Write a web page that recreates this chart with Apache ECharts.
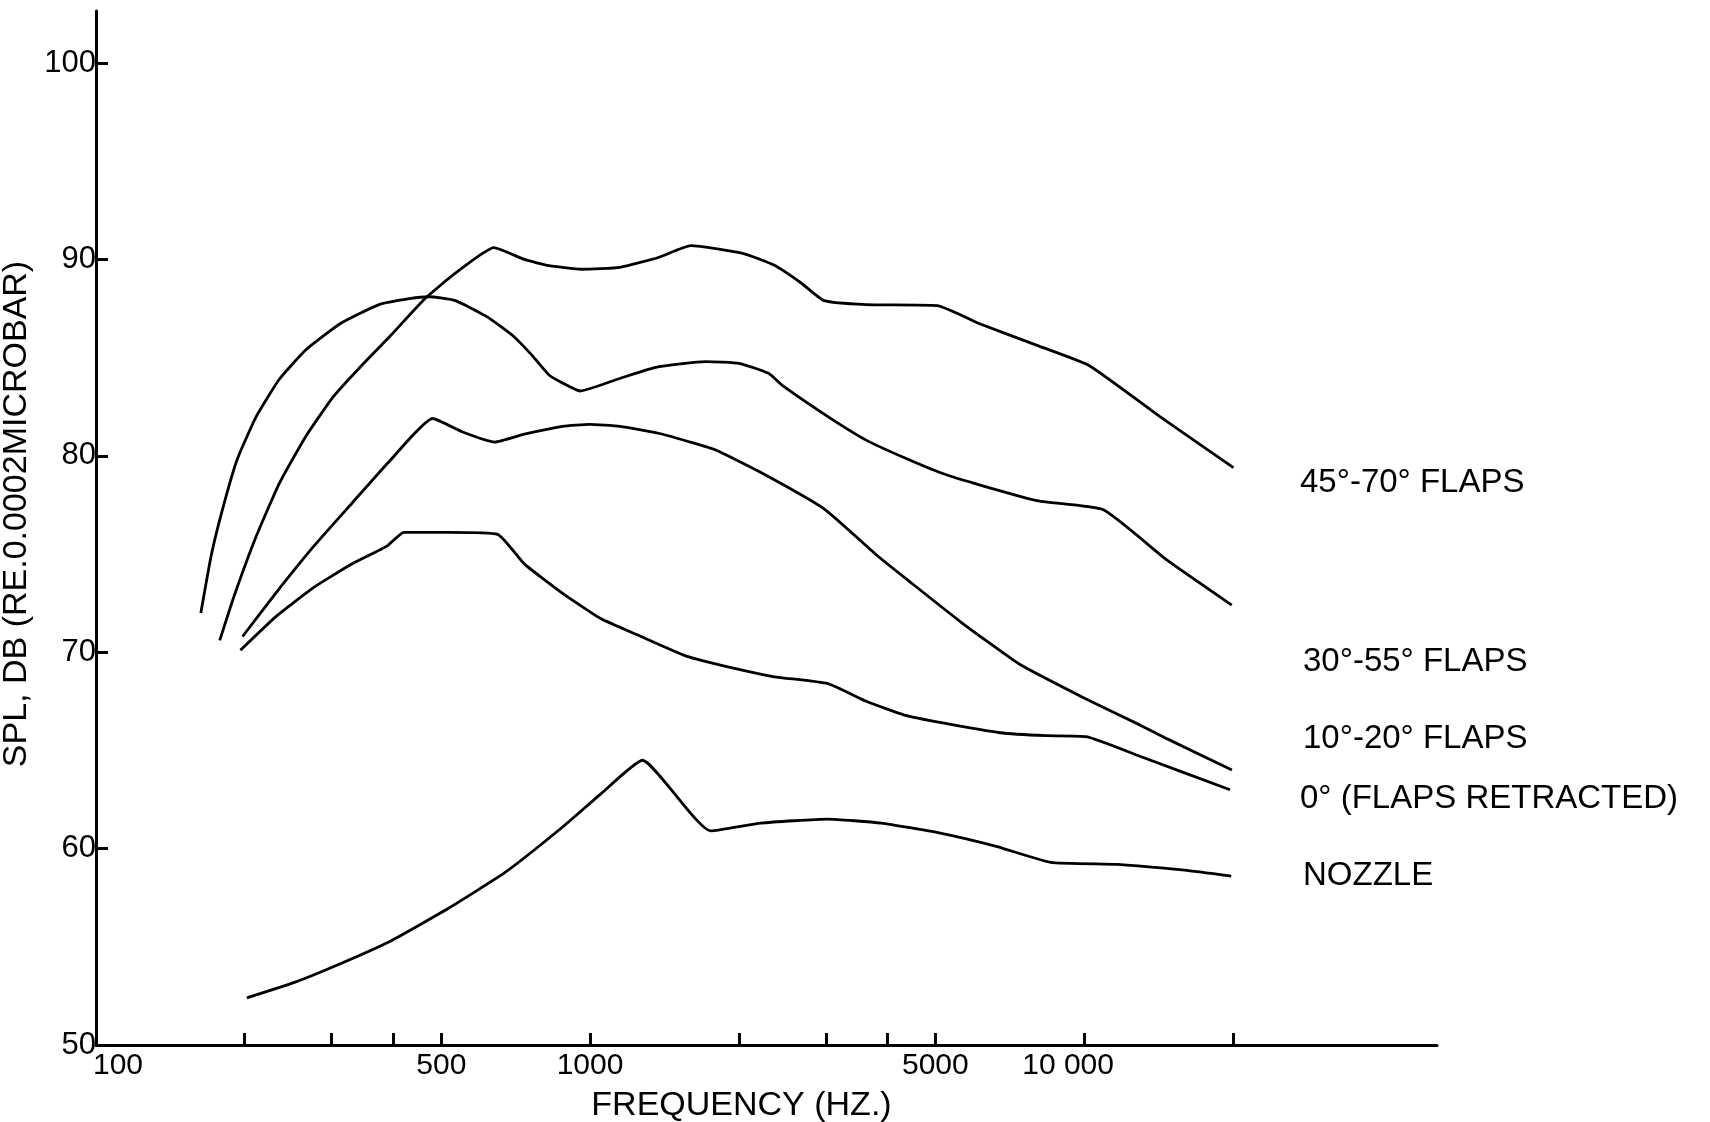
<!DOCTYPE html>
<html><head><meta charset="utf-8">
<script src="https://cdn.jsdelivr.net/npm/echarts@6/dist/echarts.min.js"></script>
<style>html,body{margin:0;padding:0;background:#fff}#c{width:1710px;height:1122px}</style>
</head><body><div id="c"></div>
<script>
// ---- data (frequency Hz, SPL dB) ----
const flaps45_70 = [[178,70.6],[190,72.8],[211,75.9],[235,78.6],[266,81.0],[302,83.0],[342,84.5],[394,86.1],[463,88.0],[534,89.3],[639,90.6],[736,90.0],[820,89.7],[962,89.5],[1150,89.6],[1375,90.1],[1600,90.7],[2046,90.3],[2361,89.7],[2675,88.8],[2977,87.9],[3622,87.7],[5040,87.65],[6185,86.7],[8083,85.6],[10230,84.6],[14240,82.0],[20060,79.4]];
const flaps30_55 = [[163,72.0],[171,74.9],[180,77.2],[193,79.8],[211,82.0],[235,83.9],[266,85.4],[313,86.75],[374,87.7],[431,88.0],[472,88.1],[534,87.9],[617,87.1],[699,86.1],[764,85.1],[827,84.1],[881,83.7],[954,83.3],[1136,83.9],[1358,84.5],[1713,84.8],[2011,84.7],[2298,84.2],[2446,83.6],[3030,82.0],[3622,80.8],[4329,79.9],[5174,79.1],[6185,78.5],[8083,77.7],[10940,77.25],[14700,74.7],[19900,72.4]];
const flaps10_20 = [[198,70.8],[231,73.0],[276,75.4],[330,77.6],[395,79.8],[480,81.9],[554,81.2],[641,80.7],[736,81.1],[880,81.5],[997,81.6],[1150,81.5],[1375,81.15],[1623,80.65],[1797,80.3],[2237,79.1],[2977,77.3],[3821,74.9],[4408,73.65],[5656,71.5],[7393,69.4],[9950,67.7],[12960,66.3],[14700,65.6],[19920,64.0]];
const flapsRetracted = [[196,70.1],[231,71.8],[276,73.3],[330,74.5],[388,75.4],[420,76.1],[516,76.1],[650,76.0],[736,74.5],[880,73.0],[1053,71.7],[1242,70.9],[1566,69.8],[1941,69.2],[2361,68.75],[3030,68.4],[3622,67.5],[4329,66.8],[5174,66.4],[6761,65.9],[8375,65.75],[10100,65.7],[12970,64.7],[19740,63.0]];
const nozzle = [[202,52.4],[253,53.2],[313,54.15],[395,55.3],[516,56.95],[674,58.8],[880,61.1],[1053,62.8],[1276,64.5],[1754,60.9],[2216,61.3],[3025,61.5],[3883,61.3],[5088,60.8],[6670,60.1],[8554,59.3],[11690,59.2],[15970,58.9],[19850,58.6]];

const seriesNames = ['45°-70° FLAPS','30°-55° FLAPS','10°-20° FLAPS','0° (FLAPS RETRACTED)','NOZZLE'];
const seriesData = [flaps45_70, flaps30_55, flaps10_20, flapsRetracted, nozzle];

const xTickValues = [200,300,400,500,1000,2000,3000,4000,5000,10000,20000];
const xLabelValues = [100,500,1000,5000,10000];
const xLabelTexts = {100:'100',500:'500',1000:'1000',5000:'5000',10000:'10 000'};
const yTickValues = [50,60,70,80,90,100];
const xAxisTitle = 'FREQUENCY (HZ.)';
const yAxisTitle = 'SPL, DB (RE.0.0002MICROBAR)';

// ---- chart ----
const FONT = '"Liberation Sans", Arial, sans-serif';
const chart = echarts.init(document.getElementById('c'), null, {renderer:'canvas'});
const labelPos = [[1300,483],[1303,662],[1303,739],[1300,799],[1303,876]];

chart.setOption({
  animation:false,
  backgroundColor:'#fff',
  grid:{left:96,right:273,top:11,bottom:77,containLabel:false,outerBoundsMode:'none'},
  xAxis:{
    type:'log', logBase:10, min:100, max:51800,
    name:xAxisTitle, nameLocation:'middle', nameGap:44,
    nameTextStyle:{color:'#000',fontFamily:FONT,fontSize:34,padding:[0,50,0,0]},
    axisLine:{show:true,lineStyle:{color:'#000',width:3}},
    axisTick:{show:true,inside:true,length:12,lineStyle:{color:'#000',width:3},customValues:xTickValues},
    axisLabel:{show:true,color:'#000',fontFamily:FONT,fontSize:30,margin:6,customValues:xLabelValues,
      formatter:function(v){
        const t = xLabelTexts[Math.round(v)] || String(Math.round(v));
        if (Math.round(v)===100) return '{l|'+t+'}';
        if (Math.round(v)===10000) return '{r|'+t+'}';
        return t;
      },
      rich:{l:{fontFamily:FONT,fontSize:30,color:'#000',padding:[0,0,0,44]},
            r:{fontFamily:FONT,fontSize:30,color:'#000',padding:[0,32,0,0]}}},
    splitLine:{show:false}, minorTick:{show:false}
  },
  yAxis:{
    type:'value', min:50, max:102.65,
    name:yAxisTitle, nameLocation:'middle', nameGap:46, nameRotate:90,
    nameTextStyle:{color:'#000',fontFamily:FONT,fontSize:34,padding:[0,0,0,28]},
    axisLine:{show:true,lineStyle:{color:'#000',width:3}},
    axisTick:{show:true,inside:true,length:12,lineStyle:{color:'#000',width:3},customValues:yTickValues},
    axisLabel:{show:true,color:'#000',fontFamily:FONT,fontSize:31,margin:0,customValues:yTickValues},
    splitLine:{show:false}
  },
  series: seriesData.map((d,i)=>({
    name:seriesNames[i], type:'line', data:d, smooth:0.15, symbol:'none',
    lineStyle:{color:'#000',width:2.8}, z:3
  })),
  graphic: seriesNames.map((n,i)=>({
    type:'text', x:labelPos[i][0], y:labelPos[i][1],
    style:{text:n, fill:'#000', font:'33px '+FONT, textAlign:'left', textVerticalAlign:'middle'}
  }))
});
</script></body></html>
